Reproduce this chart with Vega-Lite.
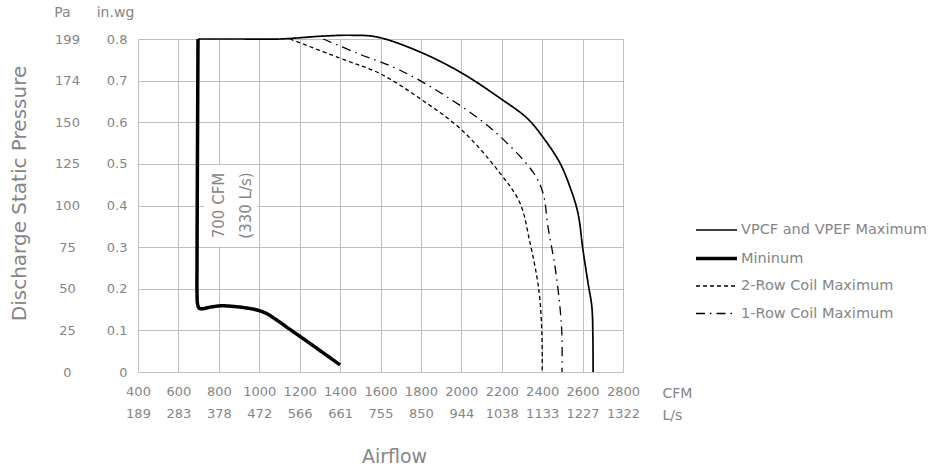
{
  "$schema": "https://vega.github.io/schema/vega-lite/v6.json",
  "width": 485,
  "height": 333,
  "autosize": {"type": "none"},
  "padding": {"left": 138, "top": 39, "right": 314, "bottom": 94},
  "background": "white",
  "config": {
    "font": "DejaVu Sans",
    "view": {"stroke": null},
    "axis": {
      "labelColor": "#858585",
      "titleColor": "#858585",
      "labelFontSize": 13,
      "titleFontWeight": "normal",
      "gridColor": "#bfbfbf",
      "gridWidth": 1,
      "gridOpacity": 1,
      "domain": false,
      "ticks": false,
      "tickSize": 0
    },
    "legend": {
      "orient": "none",
      "legendX": 557,
      "legendY": 180,
      "padding": 0,
      "labelFontSize": 14.5,
      "labelColor": "#858585",
      "labelLimit": 0,
      "symbolType": "M-1.1,0H3",
      "symbolSize": 400,
      "symbolStrokeColor": "black",
      "labelOffset": 22,
      "rowPadding": 9.5
    }
  },
  "title": {
    "text": "Airflow",
    "orient": "bottom",
    "anchor": "middle",
    "frame": "group",
    "fontSize": 19,
    "fontWeight": "normal",
    "color": "#858585",
    "dx": 14,
    "offset": 26
  },
  "datasets": {
    "curves": [
      {"series": "VPCF and VPEF Maximum", "i": 1, "cfm": 697, "inwg": 0.8},
      {"series": "VPCF and VPEF Maximum", "i": 2, "cfm": 900, "inwg": 0.8},
      {"series": "VPCF and VPEF Maximum", "i": 3, "cfm": 1100, "inwg": 0.8},
      {"series": "VPCF and VPEF Maximum", "i": 4, "cfm": 1317, "inwg": 0.807},
      {"series": "VPCF and VPEF Maximum", "i": 5, "cfm": 1449, "inwg": 0.809},
      {"series": "VPCF and VPEF Maximum", "i": 6, "cfm": 1581, "inwg": 0.805},
      {"series": "VPCF and VPEF Maximum", "i": 7, "cfm": 1795, "inwg": 0.769},
      {"series": "VPCF and VPEF Maximum", "i": 8, "cfm": 2003, "inwg": 0.718},
      {"series": "VPCF and VPEF Maximum", "i": 9, "cfm": 2191, "inwg": 0.658},
      {"series": "VPCF and VPEF Maximum", "i": 10, "cfm": 2325, "inwg": 0.61},
      {"series": "VPCF and VPEF Maximum", "i": 11, "cfm": 2404, "inwg": 0.564},
      {"series": "VPCF and VPEF Maximum", "i": 12, "cfm": 2488, "inwg": 0.502},
      {"series": "VPCF and VPEF Maximum", "i": 13, "cfm": 2538, "inwg": 0.444},
      {"series": "VPCF and VPEF Maximum", "i": 14, "cfm": 2577, "inwg": 0.382},
      {"series": "VPCF and VPEF Maximum", "i": 15, "cfm": 2602, "inwg": 0.293},
      {"series": "VPCF and VPEF Maximum", "i": 16, "cfm": 2627, "inwg": 0.214},
      {"series": "VPCF and VPEF Maximum", "i": 17, "cfm": 2646, "inwg": 0.156},
      {"series": "VPCF and VPEF Maximum", "i": 18, "cfm": 2651, "inwg": 0.084},
      {"series": "VPCF and VPEF Maximum", "i": 19, "cfm": 2652, "inwg": 0},
      {"series": "Mininum", "i": 1, "cfm": 697, "inwg": 0.8},
      {"series": "Mininum", "i": 2, "cfm": 694, "inwg": 0.5},
      {"series": "Mininum", "i": 3, "cfm": 692, "inwg": 0.25},
      {"series": "Mininum", "i": 4, "cfm": 692, "inwg": 0.19},
      {"series": "Mininum", "i": 5, "cfm": 695, "inwg": 0.163},
      {"series": "Mininum", "i": 6, "cfm": 703, "inwg": 0.153},
      {"series": "Mininum", "i": 7, "cfm": 720, "inwg": 0.152},
      {"series": "Mininum", "i": 8, "cfm": 760, "inwg": 0.156},
      {"series": "Mininum", "i": 9, "cfm": 810, "inwg": 0.159},
      {"series": "Mininum", "i": 10, "cfm": 860, "inwg": 0.158},
      {"series": "Mininum", "i": 11, "cfm": 920, "inwg": 0.155},
      {"series": "Mininum", "i": 12, "cfm": 980, "inwg": 0.15},
      {"series": "Mininum", "i": 13, "cfm": 1030, "inwg": 0.142},
      {"series": "Mininum", "i": 14, "cfm": 1080, "inwg": 0.127},
      {"series": "Mininum", "i": 15, "cfm": 1150, "inwg": 0.103},
      {"series": "Mininum", "i": 16, "cfm": 1250, "inwg": 0.069},
      {"series": "Mininum", "i": 17, "cfm": 1400, "inwg": 0.017},
      {"series": "2-Row Coil Maximum", "i": 1, "cfm": 1152, "inwg": 0.8},
      {"series": "2-Row Coil Maximum", "i": 2, "cfm": 1399, "inwg": 0.754},
      {"series": "2-Row Coil Maximum", "i": 3, "cfm": 1597, "inwg": 0.717},
      {"series": "2-Row Coil Maximum", "i": 4, "cfm": 1795, "inwg": 0.657},
      {"series": "2-Row Coil Maximum", "i": 5, "cfm": 2003, "inwg": 0.581},
      {"series": "2-Row Coil Maximum", "i": 6, "cfm": 2191, "inwg": 0.478},
      {"series": "2-Row Coil Maximum", "i": 7, "cfm": 2290, "inwg": 0.406},
      {"series": "2-Row Coil Maximum", "i": 8, "cfm": 2340, "inwg": 0.31},
      {"series": "2-Row Coil Maximum", "i": 9, "cfm": 2374, "inwg": 0.228},
      {"series": "2-Row Coil Maximum", "i": 10, "cfm": 2389, "inwg": 0.173},
      {"series": "2-Row Coil Maximum", "i": 11, "cfm": 2399, "inwg": 0.084},
      {"series": "2-Row Coil Maximum", "i": 12, "cfm": 2400, "inwg": 0},
      {"series": "1-Row Coil Maximum", "i": 1, "cfm": 1317, "inwg": 0.8},
      {"series": "1-Row Coil Maximum", "i": 2, "cfm": 1484, "inwg": 0.766},
      {"series": "1-Row Coil Maximum", "i": 3, "cfm": 1697, "inwg": 0.725},
      {"series": "1-Row Coil Maximum", "i": 4, "cfm": 1929, "inwg": 0.661},
      {"series": "1-Row Coil Maximum", "i": 5, "cfm": 2157, "inwg": 0.581},
      {"series": "1-Row Coil Maximum", "i": 6, "cfm": 2355, "inwg": 0.48},
      {"series": "1-Row Coil Maximum", "i": 7, "cfm": 2404, "inwg": 0.43},
      {"series": "1-Row Coil Maximum", "i": 8, "cfm": 2429, "inwg": 0.348},
      {"series": "1-Row Coil Maximum", "i": 9, "cfm": 2464, "inwg": 0.252},
      {"series": "1-Row Coil Maximum", "i": 10, "cfm": 2488, "inwg": 0.156},
      {"series": "1-Row Coil Maximum", "i": 11, "cfm": 2498, "inwg": 0.084},
      {"series": "1-Row Coil Maximum", "i": 12, "cfm": 2498, "inwg": 0}
    ],
    "ybounds": [{"v": 0}, {"v": 0.8}],
    "note": [{"cfm": 802, "inwg": 0.4, "cfm1": 728, "cfm2": 992, "lo": 0.303, "hi": 0.497, "label": ["700  CFM", "(330 L/s)"]}]
  },
  "layer": [
    {
      "layer": [
        {
          "data": {"name": "note"},
          "mark": {"type": "rect", "color": "white"},
          "encoding": {
            "x": {"field": "cfm1", "type": "quantitative", "scale": {"domain": [400, 2800], "nice": false, "zero": false}},
            "x2": {"field": "cfm2"},
            "y": {"field": "lo", "type": "quantitative", "scale": {"domain": [0, 0.8], "nice": false}},
            "y2": {"field": "hi"}
          }
        },
        {
          "data": {"name": "note"},
          "mark": {"type": "text", "angle": 270, "align": "center", "baseline": "middle", "fontSize": 15, "lineHeight": 27, "color": "#858585"},
          "encoding": {
            "x": {"field": "cfm", "type": "quantitative"},
            "y": {"field": "inwg", "type": "quantitative"},
            "text": {"field": "label"}
          }
        },
        {
          "data": {"name": "curves"},
          "mark": {"type": "line", "interpolate": "catmull-rom", "color": "black"},
          "encoding": {
            "x": {
              "field": "cfm", "type": "quantitative",
              "scale": {"domain": [400, 2800], "nice": false, "zero": false},
              "axis": {
                "values": [400, 600, 800, 1000, 1200, 1400, 1600, 1800, 2000, 2200, 2400, 2600, 2800],
                "format": "d",
                "labelExpr": "[datum.label, ['189','283','378','472','566','661','755','850','944','1038','1133','1227','1322'][round((datum.value-400)/200)]]",
                "labelOverlap": false,
                "labelFlush": false,
                "labelLineHeight": 22,
                "labelPadding": 13,
                "labelFontSize": 13,
                "grid": true,
                "title": ["CFM", "L/s"],
                "titleX": 524,
                "titleY": 25,
                "titleAlign": "left",
                "titleBaseline": "alphabetic",
                "titleFontSize": 14,
                "titleLineHeight": 22
              }
            },
            "y": {
              "field": "inwg", "type": "quantitative",
              "scale": {"domain": [0, 0.8], "nice": false},
              "axis": {
                "orient": "left",
                "values": [0, 0.1, 0.2, 0.3, 0.4, 0.5, 0.6, 0.7, 0.8],
                "format": ".1~f",
                "labelPadding": 11,
                "labelFlush": false,
                "grid": true,
                "title": "in.wg",
                "titleAngle": 0,
                "titleX": -23,
                "titleY": -27,
                "titleAlign": "center",
                "titleBaseline": "middle",
                "titleFontSize": 14
              }
            },
            "detail": {"field": "series"},
            "order": {"field": "i", "type": "quantitative"},
            "strokeDash": {
              "field": "series", "type": "nominal",
              "scale": {
                "domain": ["VPCF and VPEF Maximum", "Mininum", "2-Row Coil Maximum", "1-Row Coil Maximum"],
                "range": [[1, 0], [1, 0], [4, 3], [9, 5, 1.5, 5]]
              },
              "legend": {"title": null}
            },
            "strokeWidth": {
              "field": "series", "type": "nominal",
              "scale": {
                "type": "ordinal",
                "domain": ["VPCF and VPEF Maximum", "Mininum", "2-Row Coil Maximum", "1-Row Coil Maximum"],
                "range": [1.7, 3.5, 1.3, 1.3]
              },
              "legend": {"title": null}
            }
          }
        }
      ]
    },
    {
      "data": {"name": "ybounds"},
      "mark": {"type": "point", "opacity": 0},
      "encoding": {
        "y": {
          "field": "v", "type": "quantitative",
          "scale": {"domain": [0, 0.8], "nice": false},
          "axis": {
            "orient": "left",
            "values": [0, 0.1, 0.2, 0.3, 0.4, 0.5, 0.6, 0.7, 0.8],
            "labelExpr": "['0','25','50','75','100','125','150','174','199'][round(datum.value*10)]",
            "labelAlign": "center",
            "labelFlush": false,
            "labelPadding": 71,
            "grid": false,
            "title": "Pa",
            "titleAngle": 0,
            "titleX": -76,
            "titleY": -27,
            "titleAlign": "center",
            "titleBaseline": "middle",
            "titleFontSize": 14
          }
        }
      }
    },
    {
      "data": {"name": "ybounds"},
      "mark": {"type": "point", "opacity": 0},
      "encoding": {
        "y": {
          "field": "v", "type": "quantitative",
          "scale": {"domain": [0, 0.8], "nice": false},
          "axis": {
            "orient": "left",
            "labels": false,
            "grid": false,
            "title": "Discharge Static Pressure",
            "titleAngle": 270,
            "titleX": -119,
            "titleY": 154,
            "titleAlign": "center",
            "titleBaseline": "middle",
            "titleFontSize": 20
          }
        }
      }
    }
  ],
  "resolve": {"scale": {"y": "independent"}}
}
